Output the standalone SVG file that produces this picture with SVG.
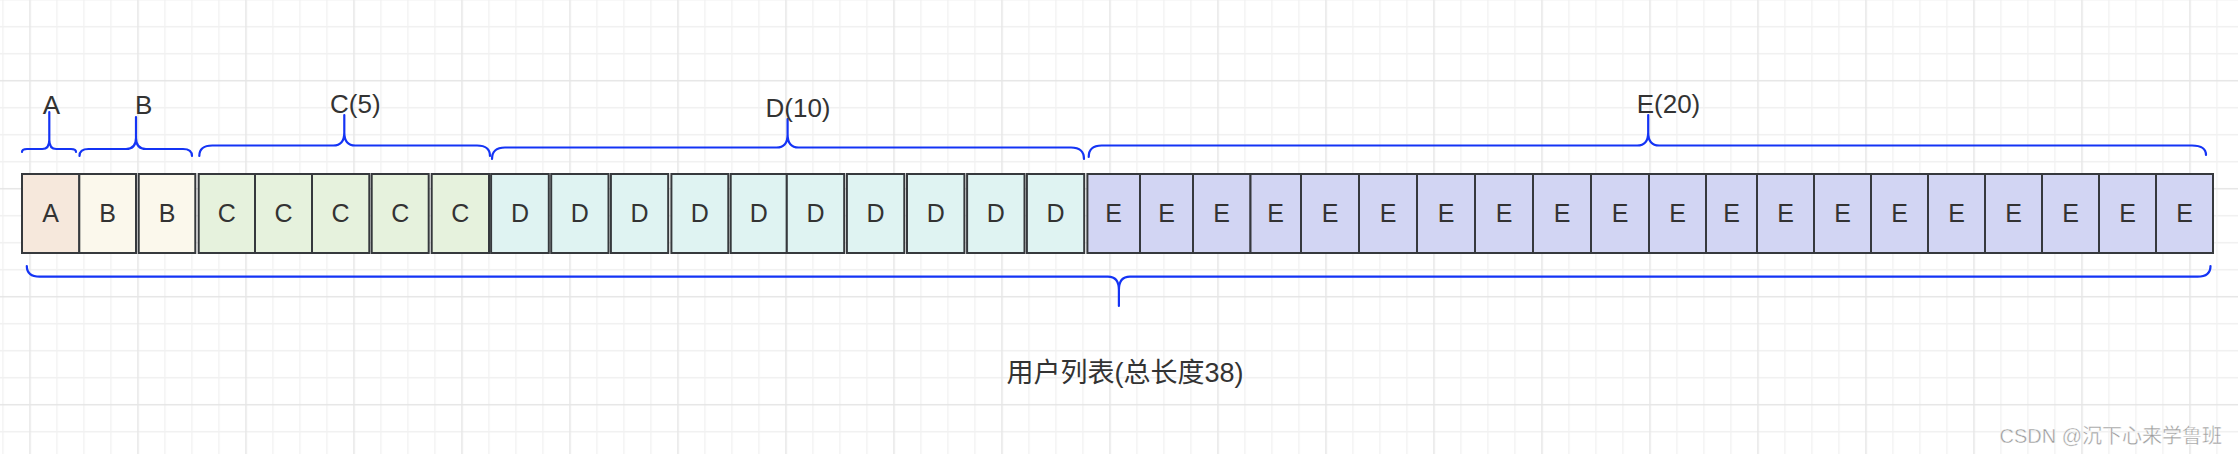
<svg xmlns="http://www.w3.org/2000/svg" width="2238" height="454" viewBox="0 0 2238 454">
<defs>
<pattern id="grid" patternUnits="userSpaceOnUse" x="29.25" y="79.95" width="108" height="108">
<path d="M27.75,0V108M54.75,0V108M81.75,0V108M0,27.75H108M0,54.75H108M0,81.75H108" stroke="#f1f1f1" stroke-width="1.3" fill="none"/>
<path d="M0.75,0V108M0,0.75H108" stroke="#e6e6e6" stroke-width="1.5" fill="none"/>
</pattern>
</defs>
<style>
.cell{stroke:#36393d;stroke-width:2}
.a{fill:#f6e8dc}.b{fill:#fbf8ec}.c{fill:#e6f2dd}.d{fill:#dff3f2}.e{fill:#d2d5f3}
.t{font-family:"Liberation Sans",Arial,sans-serif;font-size:25px;fill:#333;text-anchor:middle}
.lbl{font-family:"Liberation Sans",Arial,sans-serif;font-size:26px;fill:#333}
.brace{fill:none;stroke:#1434f5;stroke-width:2.2;stroke-linecap:round;stroke-linejoin:round}
</style>
<rect width="2238" height="454" fill="#ffffff"/>
<rect width="2238" height="454" fill="url(#grid)"/>

<g id="cells">
<g id="cellA1"><rect class="cell a" x="22" y="174" width="57.3" height="79"/><text class="t" x="50.6" y="222">A</text></g>
<g id="cellB1"><rect class="cell b" x="79.3" y="174" width="56.7" height="79"/><text class="t" x="107.6" y="222">B</text></g>
<g id="cellB2"><rect class="cell b" x="138.7" y="174" width="56.6" height="79"/><text class="t" x="167" y="222">B</text></g>
<g id="cellC1"><rect class="cell c" x="198.7" y="174" width="56.3" height="79"/><text class="t" x="226.8" y="222">C</text></g>
<g id="cellC2"><rect class="cell c" x="255" y="174" width="57" height="79"/><text class="t" x="283.5" y="222">C</text></g>
<g id="cellC3"><rect class="cell c" x="312" y="174" width="57.3" height="79"/><text class="t" x="340.6" y="222">C</text></g>
<g id="cellC4"><rect class="cell c" x="371.7" y="174" width="57" height="79"/><text class="t" x="400.2" y="222">C</text></g>
<g id="cellC5"><rect class="cell c" x="431.7" y="174" width="57.3" height="79"/><text class="t" x="460.3" y="222">C</text></g>
<g id="cellD1"><rect class="cell d" x="491.1" y="174" width="57.7" height="79"/><text class="t" x="520" y="222">D</text></g>
<g id="cellD2"><rect class="cell d" x="551.2" y="174" width="57.3" height="79"/><text class="t" x="579.8" y="222">D</text></g>
<g id="cellD3"><rect class="cell d" x="610.9" y="174" width="57.3" height="79"/><text class="t" x="639.5" y="222">D</text></g>
<g id="cellD4"><rect class="cell d" x="671.4" y="174" width="56.9" height="79"/><text class="t" x="699.8" y="222">D</text></g>
<g id="cellD5"><rect class="cell d" x="730.7" y="174" width="56.1" height="79"/><text class="t" x="758.7" y="222">D</text></g>
<g id="cellD6"><rect class="cell d" x="786.8" y="174" width="57.4" height="79"/><text class="t" x="815.5" y="222">D</text></g>
<g id="cellD7"><rect class="cell d" x="846.9" y="174" width="57.4" height="79"/><text class="t" x="875.6" y="222">D</text></g>
<g id="cellD8"><rect class="cell d" x="907" y="174" width="57.4" height="79"/><text class="t" x="935.7" y="222">D</text></g>
<g id="cellD9"><rect class="cell d" x="967.1" y="174" width="57.4" height="79"/><text class="t" x="995.8" y="222">D</text></g>
<g id="cellD10"><rect class="cell d" x="1026.9" y="174" width="57.3" height="79"/><text class="t" x="1055.5" y="222">D</text></g>
<g id="cellE1"><rect class="cell e" x="1087.4" y="174" width="52.6" height="79"/><text class="t" x="1113.7" y="222">E</text></g>
<g id="cellE2"><rect class="cell e" x="1140" y="174" width="53" height="79"/><text class="t" x="1166.5" y="222">E</text></g>
<g id="cellE3"><rect class="cell e" x="1193" y="174" width="57.5" height="79"/><text class="t" x="1221.7" y="222">E</text></g>
<g id="cellE4"><rect class="cell e" x="1250.5" y="174" width="50.5" height="79"/><text class="t" x="1275.7" y="222">E</text></g>
<g id="cellE5"><rect class="cell e" x="1301" y="174" width="58" height="79"/><text class="t" x="1330" y="222">E</text></g>
<g id="cellE6"><rect class="cell e" x="1359" y="174" width="58" height="79"/><text class="t" x="1388" y="222">E</text></g>
<g id="cellE7"><rect class="cell e" x="1417" y="174" width="58" height="79"/><text class="t" x="1446" y="222">E</text></g>
<g id="cellE8"><rect class="cell e" x="1475" y="174" width="58" height="79"/><text class="t" x="1504" y="222">E</text></g>
<g id="cellE9"><rect class="cell e" x="1533" y="174" width="58" height="79"/><text class="t" x="1562" y="222">E</text></g>
<g id="cellE10"><rect class="cell e" x="1591" y="174" width="58" height="79"/><text class="t" x="1620" y="222">E</text></g>
<g id="cellE11"><rect class="cell e" x="1649" y="174" width="57" height="79"/><text class="t" x="1677.5" y="222">E</text></g>
<g id="cellE12"><rect class="cell e" x="1706" y="174" width="51" height="79"/><text class="t" x="1731.5" y="222">E</text></g>
<g id="cellE13"><rect class="cell e" x="1757" y="174" width="57" height="79"/><text class="t" x="1785.5" y="222">E</text></g>
<g id="cellE14"><rect class="cell e" x="1814" y="174" width="57" height="79"/><text class="t" x="1842.5" y="222">E</text></g>
<g id="cellE15"><rect class="cell e" x="1871" y="174" width="57" height="79"/><text class="t" x="1899.5" y="222">E</text></g>
<g id="cellE16"><rect class="cell e" x="1928" y="174" width="57" height="79"/><text class="t" x="1956.5" y="222">E</text></g>
<g id="cellE17"><rect class="cell e" x="1985" y="174" width="57" height="79"/><text class="t" x="2013.5" y="222">E</text></g>
<g id="cellE18"><rect class="cell e" x="2042" y="174" width="57" height="79"/><text class="t" x="2070.5" y="222">E</text></g>
<g id="cellE19"><rect class="cell e" x="2099" y="174" width="57" height="79"/><text class="t" x="2127.5" y="222">E</text></g>
<g id="cellE20"><rect class="cell e" x="2156" y="174" width="57" height="79"/><text class="t" x="2184.5" y="222">E</text></g>
</g>

<g id="braces">
<path id="braceA" class="brace" d="M22,152 Q22,149 27,149 L42.3,149 Q49.3,149 49.3,140 L49.3,112 M49.3,140 Q49.3,149 56.3,149 L71,149 Q76,149 76,152"/>
<path id="braceB" class="brace" d="M79.5,156 Q79.5,149 88.5,149 L126,149 Q136,149 136,138 L136,117 M136,138 Q136,149 146,149 L183,149 Q192,149 192,156"/>
<path id="braceC" class="brace" d="M199.3,156 Q199.3,145.5 212.3,145.5 L333.3,145.5 Q344.3,145.5 344.3,132.5 L344.3,115 M344.3,132.5 Q344.3,145.5 355.3,145.5 L477,145.5 Q490,145.5 490,156"/>
<path id="braceD" class="brace" d="M492,159 Q492,147.5 505,147.5 L776.6,147.5 Q787.6,147.5 787.6,134.5 L787.6,119 M787.6,134.5 Q787.6,147.5 798.6,147.5 L1071,147.5 Q1084,147.5 1084,159"/>
<path id="braceE" class="brace" d="M1088.7,157 Q1088.7,145.5 1101.7,145.5 L1637.2,145.5 Q1648.2,145.5 1648.2,132.5 L1648.2,115 M1648.2,132.5 Q1648.2,145.5 1659.2,145.5 L2192,145.5 Q2206,145.5 2206,155"/>
<path id="braceAll" class="brace" stroke-width="2.6" d="M26.8,266 Q26.8,276.7 39.8,276.7 L1107.9,276.7 Q1118.9,276.7 1118.9,290 L1118.9,306 M1118.9,290 Q1118.9,276.7 1129.9,276.7 L2197.5,276.7 Q2210.5,276.7 2210.5,266"/>
</g>

<g id="labels">
<text class="lbl" x="42.7" y="114">A</text>
<text class="lbl" x="135" y="114">B</text>
<text class="lbl" x="330" y="113">C(5)</text>
<text class="lbl" x="765.5" y="116.5">D(10)</text>
<text class="lbl" x="1636.7" y="112.5">E(20)</text>
<text id="totalLabel" x="1125" y="382" font-family="'Liberation Sans','Noto Sans CJK SC',sans-serif" font-size="27" fill="#333" text-anchor="middle">用户列表(总长度38)</text>
<text id="watermark" x="2222" y="443" font-family="'Liberation Sans','Noto Sans CJK SC',sans-serif" font-size="20" fill="#9b9b9b" stroke="#ffffff" stroke-width="0.4" text-anchor="end">CSDN @沉下心来学鲁班</text>
</g>
</svg>
